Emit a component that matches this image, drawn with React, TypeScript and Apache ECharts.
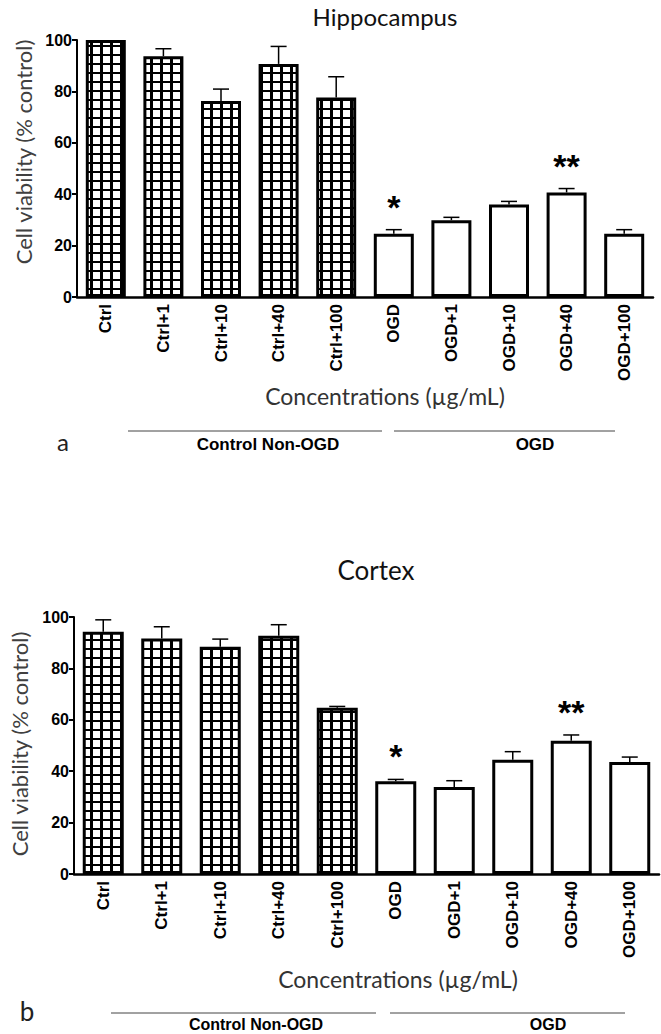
import React, { useEffect, useRef } from 'react';
import * as echarts from 'echarts';

const categories = ['Ctrl', 'Ctrl+1', 'Ctrl+10', 'Ctrl+40', 'Ctrl+100', 'OGD', 'OGD+1', 'OGD+10', 'OGD+40', 'OGD+100'];
const yTicks = [0, 20, 40, 60, 80, 100];
const hippocampusMean = [100, 93.7, 76.3, 90.7, 77.6, 24.6, 29.9, 36.0, 40.7, 24.6];
const hippocampusSem = [0, 2.9, 4.6, 6.8, 8.1, 1.6, 1.1, 1.2, 1.5, 1.6];
const cortexMean = [94.3, 91.6, 88.4, 92.7, 64.7, 36.1, 33.9, 44.5, 51.8, 43.6];
const cortexSem = [4.6, 4.6, 3.0, 4.3, 0.5, 0.7, 2.4, 3.1, 2.3, 1.9];
const significance = ['', '', '', '', '', '*', '', '', '**', ''];
const panelTitles = ['Hippocampus', 'Cortex'];
const panelLetters = ['a', 'b'];
const groupLabels = ['Control Non-OGD', 'OGD'];
const yAxisTitle = 'Cell viability (% control)';
const xAxisTitle = 'Concentrations (µg/mL)';

const SANS = 'Lato';
const BOLD = 'Liberation Sans';

function makePattern() {
  const c = document.createElement('canvas');
  c.width = 10;
  c.height = 9;
  const ctx = c.getContext('2d')!;
  ctx.fillStyle = '#ffffff';
  ctx.fillRect(0, 0, 10, 9);
  ctx.fillStyle = '#000000';
  ctx.fillRect(0, 0, 10, 2);
  ctx.fillRect(0, 0, 3, 9);
  return { image: c, repeat: 'repeat', imageWidth: 10, imageHeight: 9 } as any;
}

export default function App() {
  const ref = useRef<HTMLDivElement>(null);
  useEffect(() => {
    document.body.style.margin = '0';
    const chart = echarts.init(ref.current!, undefined, { renderer: 'svg' });
    const pattern = makePattern();

    const panels = [
      { mean: hippocampusMean, sem: hippocampusSem, barWidth: 40 },
      { mean: cortexMean, sem: cortexSem, barWidth: 41 },
    ];

    const xAxis = panels.map((_, g) => ({
      type: 'category',
      gridIndex: g,
      data: categories,
      axisLine: { lineStyle: { color: '#000', width: 2.5 } },
      axisTick: { alignWithLabel: true, length: 6, lineStyle: { color: '#000', width: 2 } },
      axisLabel: { rotate: 90, fontFamily: BOLD, fontWeight: 'bold', fontSize: 17, color: '#000', margin: 7 },
    }));
    const yAxis = panels.map((_, g) => ({
      type: 'value',
      gridIndex: g,
      min: yTicks[0],
      max: yTicks[yTicks.length - 1],
      interval: yTicks[1] - yTicks[0],
      axisLine: { show: true, lineStyle: { color: '#000', width: 2 } },
      axisTick: { show: true, length: 5, lineStyle: { color: '#000', width: 2 } },
      axisLabel: { fontFamily: BOLD, fontWeight: 'bold', fontSize: 16, color: '#000', margin: 5 },
      splitLine: { show: false },
    }));

    const series: any[] = [];
    panels.forEach((p, g) => {
      series.push({
        type: 'bar',
        xAxisIndex: g,
        yAxisIndex: g,
        barWidth: p.barWidth,
        itemStyle: { borderColor: '#000', borderWidth: 3 },
        data: p.mean.map((v, i) => ({
          value: v,
          itemStyle: { color: categories[i].startsWith('Ctrl') ? pattern : '#ffffff' },
        })),
      });
      series.push({
        type: 'custom',
        xAxisIndex: g,
        yAxisIndex: g,
        z: 5,
        data: p.mean.map((v, i) => [i, v, p.sem[i]]),
        renderItem: (params: any, api: any) => {
          const i = api.value(0);
          const v = api.value(1);
          const e = api.value(2);
          const base = api.coord([i, v]);
          const top = api.coord([i, v + e]);
          const children: any[] = [];
          if (e > 0) {
            children.push({
              type: 'line',
              shape: { x1: base[0], y1: base[1], x2: top[0], y2: top[1] },
              style: { stroke: '#000', lineWidth: 1.5 },
            });
            children.push({
              type: 'line',
              shape: { x1: top[0] - 8, y1: top[1], x2: top[0] + 8, y2: top[1] },
              style: { stroke: '#000', lineWidth: 1.5 },
            });
          }
          const s = significance[params.dataIndex];
          if (s) {
            children.push({
              type: 'text',
              x: top[0],
              y: top[1] - 23,
              style: {
                text: s,
                font: `bold 34px "${BOLD}"`,
                fill: '#000',
                textAlign: 'center',
                textVerticalAlign: 'middle',
              },
            });
          }
          return { type: 'group', children };
        },
      });
    });

    const text = (t: string, x: number, y: number, font: string, fill = '#000', rotation = 0) => ({
      type: 'text',
      x,
      y,
      rotation,
      style: { text: t, font, fill, textAlign: 'center', textVerticalAlign: 'middle' },
    });
    const hline = (x1: number, x2: number, y: number) => ({
      type: 'line',
      shape: { x1, y1: y, x2, y2: y },
      style: { stroke: '#444', lineWidth: 1 },
    });

    const graphic = [
      text(panelTitles[0], 385, 16, `24px "${SANS}"`, '#111'),
      text(panelTitles[1], 376, 570, `26px "${SANS}"`, '#111'),
      text(yAxisTitle, 23, 152, `22px "${SANS}"`, '#404040', Math.PI / 2),
      text(yAxisTitle, 19, 744, `22px "${SANS}"`, '#404040', Math.PI / 2),
      text(xAxisTitle, 385, 396, `23px "${SANS}"`, '#333'),
      text(xAxisTitle, 398, 979, `23px "${SANS}"`, '#333'),
      text(panelLetters[0], 63, 441, `24px "${SANS}"`, '#222'),
      text(panelLetters[1], 27, 1011, `26px "${SANS}"`, '#222'),
      hline(128, 382, 431),
      hline(394, 615, 431),
      hline(111, 376, 1013),
      hline(390, 625, 1013),
      text(groupLabels[0], 268, 444, `bold 17px "${BOLD}"`, '#000'),
      text(groupLabels[1], 535, 444, `bold 17px "${BOLD}"`, '#000'),
      text(groupLabels[0], 256, 1024, `bold 16px "${BOLD}"`, '#000'),
      text(groupLabels[1], 548, 1024, `bold 16px "${BOLD}"`, '#000'),
    ];

    chart.setOption({
      animation: false,
      backgroundColor: '#ffffff',
      grid: [
        { left: 77, right: 8, top: 40, height: 257 },
        { left: 74, right: 2, top: 617, height: 257 },
      ],
      xAxis,
      yAxis,
      series,
      graphic,
    } as any);
    return () => chart.dispose();
  }, []);
  return <div ref={ref} style={{ width: 661, height: 1034 }} />;
}
